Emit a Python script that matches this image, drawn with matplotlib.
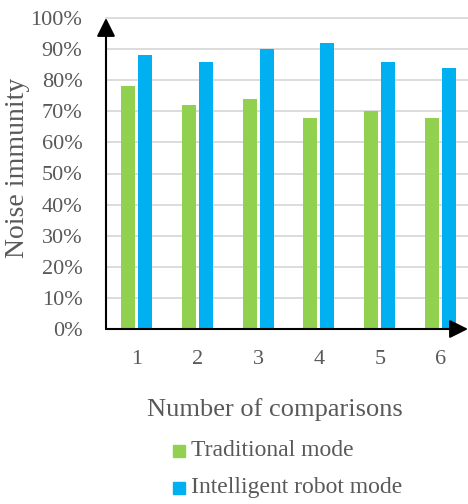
import matplotlib
matplotlib.use("Agg")
import matplotlib.pyplot as plt
import numpy as np
from matplotlib.patches import Rectangle

comparisons = ["1", "2", "3", "4", "5", "6"]
traditional = [78, 72, 74, 68, 70, 68]
intelligent = [88, 86, 90, 92, 86, 84]
series_names = ["Traditional mode", "Intelligent robot mode"]
y_ticks = list(range(0, 101, 10))

GREEN = "#92d050"
BLUE = "#00b0f0"
TEXT = "#595959"
FONT = "Liberation Serif"

fig = plt.figure(figsize=(4.68, 5.04), dpi=100)
ax = fig.add_axes([106 / 468, 1 - 329 / 504, (468 - 106) / 468, (329 - 18) / 504])

x = np.arange(len(comparisons))
w = 0.23
off = 0.14
ax.bar(x - off, traditional, width=w, color=GREEN, zorder=3)
ax.bar(x + off, intelligent, width=w, color=BLUE, zorder=3)

ax.set_xlim(-0.5, 5.45)
ax.set_ylim(0, 100)
ax.set_yticks(y_ticks)
ax.set_yticklabels([f"{v}%" for v in y_ticks], fontsize=16, family=FONT, color=TEXT)
ax.set_xticks(x)
ax.set_xticklabels(comparisons, fontsize=16, family=FONT, color=TEXT)
ax.tick_params(length=0)
ax.tick_params(axis="x", pad=15)
ax.tick_params(axis="y", pad=17)

for v in y_ticks[1:]:
    ax.axhline(v, color="#d9d9d9", lw=1.3, zorder=1, clip_on=False)

for s in ax.spines.values():
    s.set_visible(False)

arrow_kw = dict(arrowstyle="-|>,head_length=0.8,head_width=0.4", color="black",
                lw=1.5, mutation_scale=14, shrinkA=0, shrinkB=0)
ax.annotate("", xy=(0, 1.0), xytext=(0, 0), xycoords="axes fraction",
            arrowprops=arrow_kw, zorder=5, annotation_clip=False)
ax.annotate("", xy=(1.0, 0), xytext=(0, 0), xycoords="axes fraction",
            arrowprops=arrow_kw, zorder=5, annotation_clip=False)

fig.text(18 / 468, 1 - 168 / 504, "Noise immunity", rotation=90, ha="center", va="center",
         fontsize=20, family=FONT, color=TEXT)
fig.text(275 / 468, 1 - 410 / 504, "Number of comparisons", ha="center", va="center",
         fontsize=19, family=FONT, color=TEXT)

for i, (name, col) in enumerate(zip(series_names, [GREEN, BLUE])):
    yc = [451, 488][i]
    fig.patches.append(Rectangle((173 / 468, 1 - (yc + 6) / 504), 12 / 468, 12 / 504,
                                 transform=fig.transFigure, color=col))
    fig.text(191 / 468, 1 - yc / 504, name, ha="left", va="center",
             fontsize=17, family=FONT, color=TEXT)

fig.savefig("out.png", dpi=100)
